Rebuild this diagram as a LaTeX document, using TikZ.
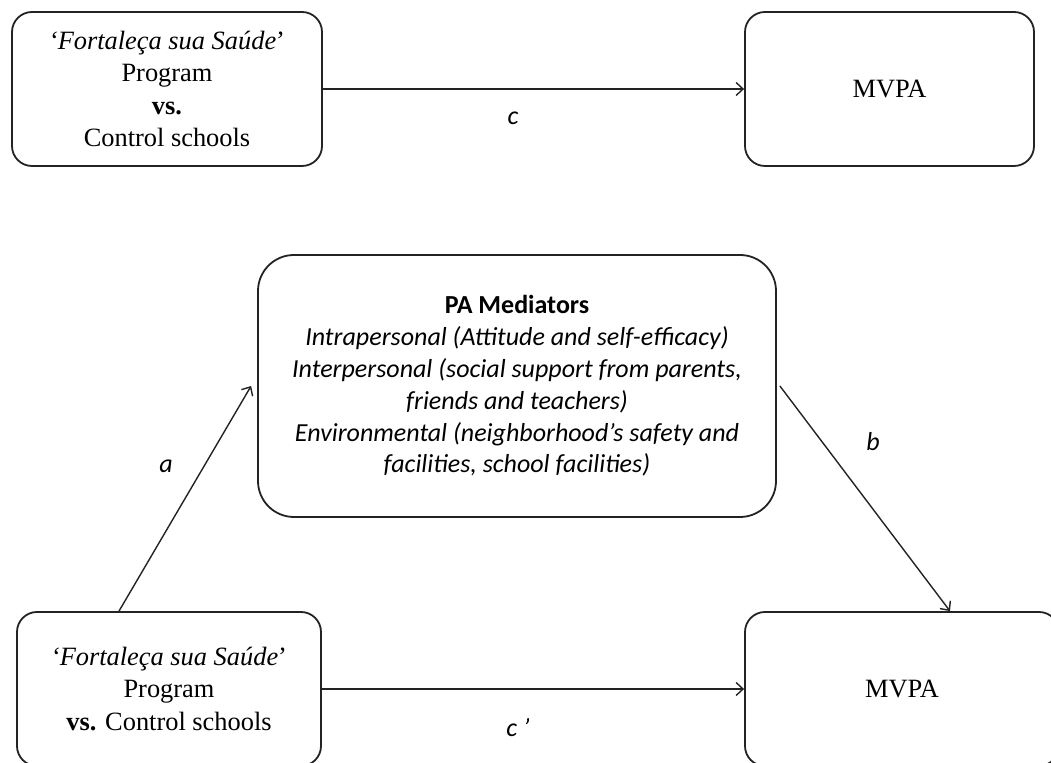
\documentclass[tikz,border=0pt]{standalone}
\usepackage{fontspec}
\setmainfont{Liberation Serif}
\newfontfamily\calibrifont{Carlito}
\usepackage{tikz}
\usetikzlibrary{arrows.meta, calc, positioning}

\begin{document}
\begin{tikzpicture}[x=0.5pt, y=-0.5pt,
        box/.style={draw=linegray, line width=0.9pt, rounded corners=10pt, inner sep=0pt, align=center},
        serifbox/.style={box, font=\fontsize{13.2}{16.1}\selectfont},
        medbox/.style={box, rounded corners=18pt, font=\calibrifont\fontsize{13}{15.9}\selectfont},
        arr/.style={draw=linegray, line width=0.7pt, -{Straight Barb[length=3.5pt, width=6.5pt]}},
        pathlabel/.style={font=\calibrifont\itshape\fontsize{13}{15}\selectfont}]
        % Màu đường viền
        \definecolor{linegray}{RGB}{35,35,35}

        % Khung trang
        \useasboundingbox (0,0) rectangle (1051,763);

        % Mô hình tổng (hàng trên)
        \node[serifbox, minimum width=155pt, minimum height=77pt] (progtop) at (167,89)
            {\textit{‘Fortaleça sua Saúde}’\\Program\\\textbf{vs.}\\Control schools};
        \node[serifbox, minimum width=144.5pt, minimum height=77pt] (mvpatop) at (889.5,89) {MVPA};
        \draw[arr] (progtop) -- (mvpatop);
        \node[pathlabel] (lblc) at (513,118) {c};

        % Biến trung gian
        \node[medbox, minimum width=259pt, minimum height=131pt] (mediators) at (517,386)
            {\textbf{PA Mediators}\\
             \textit{Intrapersonal (Attitude and self-efficacy)}\\
             \textit{Interpersonal (social support from parents,}\\
             \textit{friends and teachers)}\\
             \textit{Environmental (neighborhood’s safety and}\\
             \textit{facilities, school facilities)}};

        % Mô hình trung gian (hàng dưới)
        \node[serifbox, minimum width=152pt, minimum height=77pt] (progbot) at (169,689)
            {\textit{‘Fortaleça sua Saúde}’\\Program\\\textbf{vs.} Control schools};
        \node[serifbox, minimum width=157pt, minimum height=77pt] (mvpabot) at (902,689) {MVPA};

        % Các đường a, b, c'
        \draw[arr] ($(progbot.north)+(-50,0)$) -- ([xshift=-3pt]mediators.west);
        \draw[arr] ([xshift=1.5pt]mediators.east) -- ($(mvpabot.north)+(48,0)$);
        \draw[arr] (progbot) -- (mvpabot);
        \node[pathlabel] (lbla) at (166,466) {a};
        \node[pathlabel] (lblb) at (873,442) {b};
        \node[pathlabel] (lblcp) at (518,728) {c ’};
\end{tikzpicture}
\end{document}
